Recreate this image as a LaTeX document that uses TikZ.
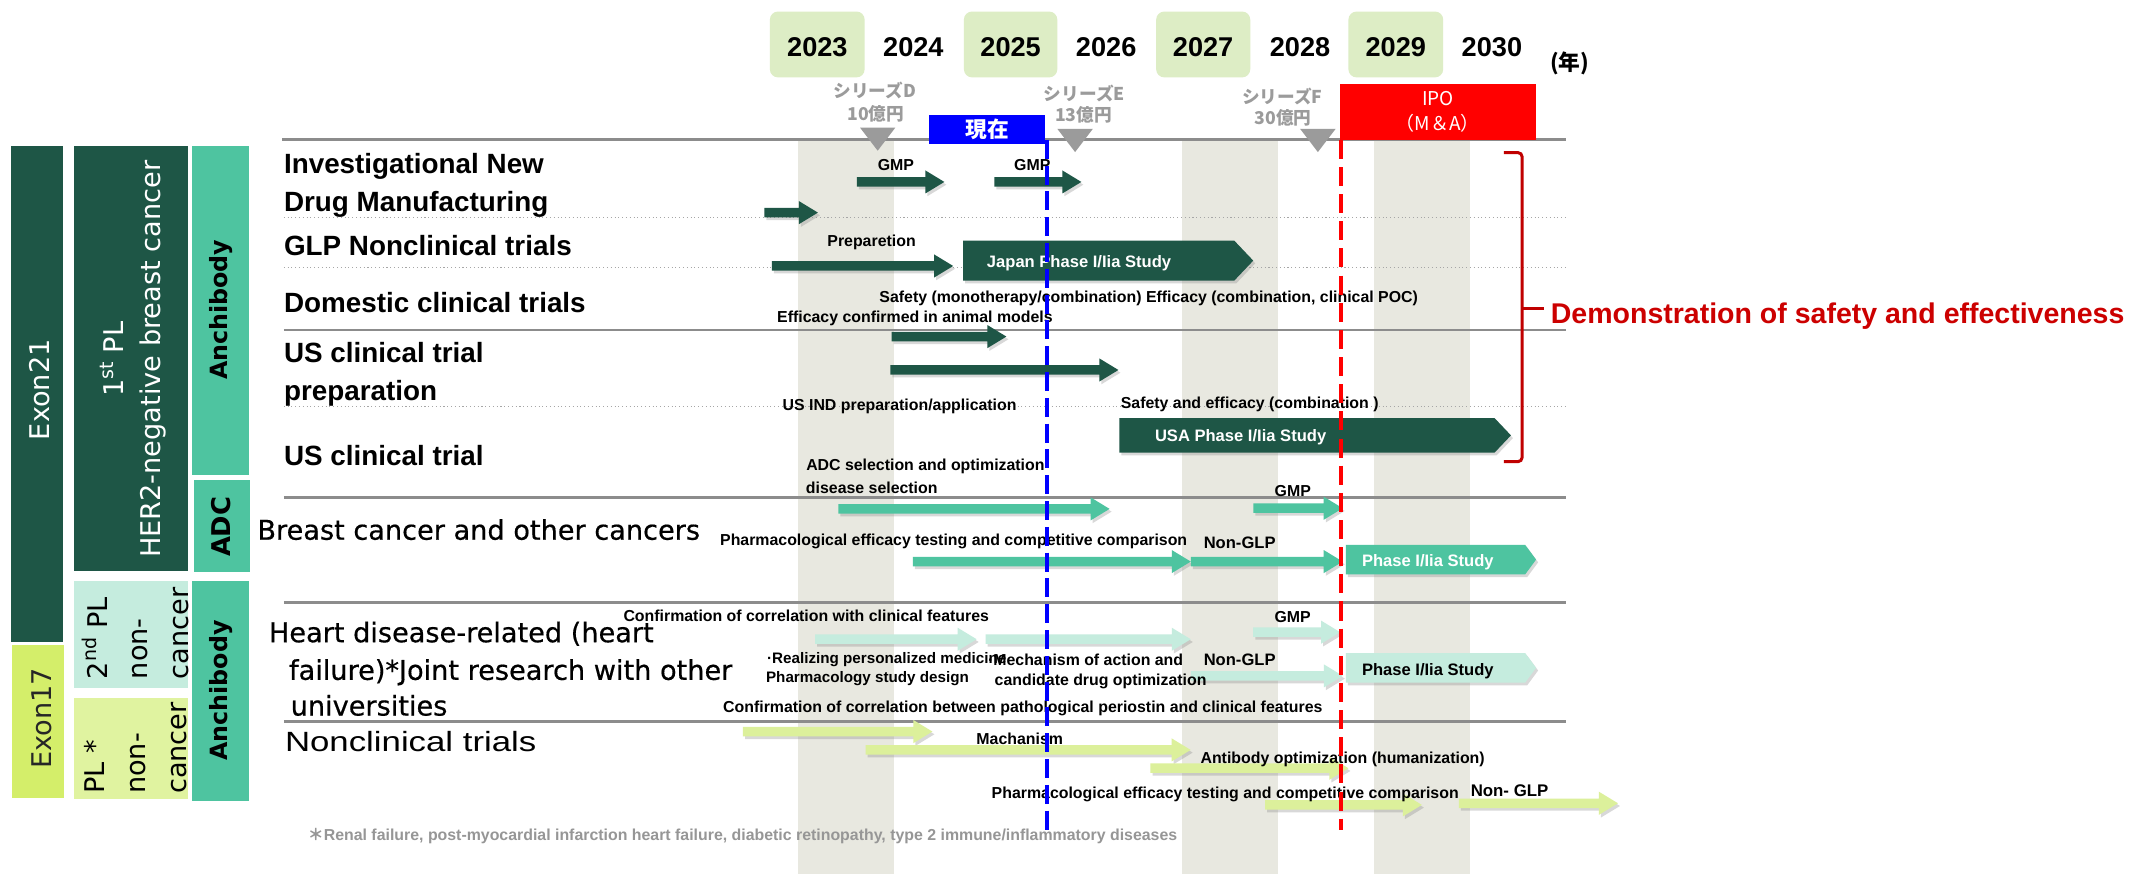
\documentclass[tikz,border=0pt]{standalone}
\usepackage{fontspec}
\setmainfont{Liberation Sans}
\newfontfamily\dvfont{DejaVu Sans}
\newfontfamily\dvmfont{DejaVu Sans}[FakeBold=0.5]
\newfontfamily\nlfont{Liberation Sans}[FakeStretch=1.25]
\newfontfamily\jpfont{Noto Sans CJK JP}
\usetikzlibrary{shadows}

\definecolor{dkgreen}{RGB}{30,86,70}
\definecolor{mdgreen}{RGB}{78,196,160}
\definecolor{mint}{RGB}{197,236,222}
\definecolor{ygreen}{RGB}{220,240,155}
\definecolor{exyellow}{RGB}{212,238,106}
\definecolor{plyellow}{RGB}{224,243,160}
\definecolor{yearbg}{RGB}{221,237,197}
\definecolor{bandbg}{RGB}{232,232,224}
\definecolor{rulegray}{RGB}{140,140,140}
\definecolor{markgray}{RGB}{155,155,155}
\definecolor{notegray}{RGB}{150,150,150}
\definecolor{braceRed}{RGB}{192,0,0}
\definecolor{txtRed}{RGB}{204,0,0}

% block arrow: start x, tip x, centre y, style
\newcommand\tlarrow[4]{\path[#4] (#1,#3-3.5) -- (#2-14,#3-3.5) -- (#2-14,#3-8.5) -- (#2,#3) -- (#2-14,#3+8.5) -- (#2-14,#3+3.5) -- (#1,#3+3.5) -- cycle;}
% phase box with pointed end: x1, x2, top y, bottom y, tip depth, style
\newcommand\tlphase[6]{\path[#6] (#1,#3) -- ({#2-#5},#3) -- (#2,{(#3+#4)/2}) -- ({#2-#5},#4) -- (#1,#4) -- cycle;}

\begin{document}
\begin{tikzpicture}[x=1pt,y=-1pt,
  shd/.style={drop shadow={shadow xshift=1.5pt,shadow yshift=-2pt,opacity=0.3}},
  dkA/.style={fill=dkgreen,shd},
  mdA/.style={fill=mdgreen,shd},
  mnA/.style={fill=mint,shd},
  ygA/.style={fill=ygreen,shd},
  yr/.style={font=\bfseries\fontsize{20}{22}\selectfont,inner sep=0},
  row/.style={font=\bfseries\fontsize{20.5}{23}\selectfont,anchor=base west,inner sep=0},
  bigrow/.style={font=\dvmfont\fontsize{20}{23}\selectfont,anchor=base west,inner sep=0},
  sm/.style={font=\bfseries\fontsize{11.7}{13}\selectfont,inner sep=0},
  smw/.style={sm,anchor=west},
  boxtxt/.style={font=\bfseries\fontsize{12.2}{14}\selectfont,inner sep=0},
  series/.style={font=\jpfont\bfseries\fontsize{13}{15}\selectfont,text=markgray,inner sep=0},
  sep/.style={rulegray,line width=2pt},
  dots/.style={gray!70,line width=0.8pt,dotted},
  side/.style={inner sep=0,rotate=90,font=\dvfont\fontsize{20}{27}\selectfont},
  sidebold/.style={inner sep=0,rotate=90,text=black,font=\dvfont\bfseries\fontsize{17.5}{20}\selectfont}]

\useasboundingbox (0,0) rectangle (1568,644);
\fill[white] (0,0) rectangle (1568,644);

% shaded year bands
\fill[bandbg] (587.6,103) rectangle (658.3,644);
\fill[bandbg] (870.4,103) rectangle (941.1,644);
\fill[bandbg] (1011.7,103) rectangle (1082.4,644);

% year header
\fill[yearbg,rounded corners=6] (567,8.5) rectangle (636.8,57);
\fill[yearbg,rounded corners=6] (709.9,8.5) rectangle (778.7,57);
\fill[yearbg,rounded corners=6] (851.5,8.5) rectangle (920.8,57);
\fill[yearbg,rounded corners=6] (993.1,8.5) rectangle (1062.9,57);
\node[yr] (y2023) at (602,34.4) {2023};
\node[yr] (y2024) at (672.7,34.4) {2024};
\node[yr] (y2025) at (744.3,34.4) {2025};
\node[yr] (y2026) at (814.7,34.4) {2026};
\node[yr] (y2027) at (886.1,34.4) {2027};
\node[yr] (y2028) at (957.5,34.4) {2028};
\node[yr] (y2029) at (1028,34.4) {2029};
\node[yr] (y2030) at (1098.8,34.4) {2030};
\node[font=\jpfont\bfseries\fontsize{16}{18}\selectfont,inner sep=0] (unit) at (1156,46.6) {(年)};

% funding rounds
\node[series] (serD1) at (644.3,66.3) {シリーズD};
\node[series] (serD2) at (645,83.5) {10億円};
\node[series] (serE1) at (798.6,68.7) {シリーズE};
\node[series] (serE2) at (798,84.7) {13億円};
\node[series] (serF1) at (944.5,71.2) {シリーズF};
\node[series] (serF2) at (945,87.1) {30億円};

% grid rules
\draw[sep] (208,103) -- (1153.5,103);
\draw[sep] (209,243) -- (1153,243);
\draw[sep] (209,366.5) -- (1153,366.5);
\draw[sep] (209,443.8) -- (1153,443.8);
\draw[sep] (209,531.4) -- (1153,531.4);
\draw[dots] (209,160) -- (1153,160);
\draw[dots] (209,196.8) -- (1153,196.8);
\draw[dots] (209,299.5) -- (1153,299.5);

% left category panel
\fill[dkgreen] (8.1,107.6) rectangle (46.2,472.6);
\fill[exyellow] (8.6,475.1) rectangle (47.1,587.5);
\fill[dkgreen] (54.5,107.6) rectangle (138.2,420.8);
\fill[mint] (54.5,427.9) rectangle (138.2,506.7);
\fill[plyellow] (54.5,514) rectangle (138.2,588.2);
\fill[mdgreen] (141.6,107.6) rectangle (183.4,350.2);
\fill[mdgreen] (142.6,353.7) rectangle (183.9,421.4);
\fill[mdgreen] (141.6,427.9) rectangle (183.4,590);
\node[side,text=white] (exon21) at (29,287) {Exon21};
\node[side,text=black!85] (exon17) at (30.7,529.2) {Exon17};
\node[side,text=white,align=center] (pl1) at (98.2,264.6) {1\textsuperscript{st} PL\\HER2-negative breast cancer};
\node[side,text=black,align=left,font=\dvfont\fontsize{20}{30}\selectfont] (pl2) at (100,466.5) {2\textsuperscript{nd} PL\\non-\\cancer};
\node[side,text=black,align=left,font=\dvfont\fontsize{20}{30}\selectfont] (pl3) at (100,551) {PL *\\non-\\cancer};
\node[sidebold] (anti1) at (163,228.2) {Anchibody};
\node[sidebold,font=\dvfont\bfseries\fontsize{19}{21}\selectfont] (adc) at (163,388) {ADC};
\node[sidebold] (anti2) at (163,508.5) {Anchibody};

% row labels
\node[row] (r1a) at (209,127.6) {Investigational New};
\node[row] (r1b) at (209,155.5) {Drug Manufacturing};
\node[row] (r2) at (209,188) {GLP Nonclinical trials};
\node[row] (r3) at (209,230) {Domestic clinical trials};
\node[row] (r4a) at (209,267.1) {US clinical trial};
\node[row] (r4b) at (209,294.6) {preparation};
\node[row] (r5) at (209,342.9) {US clinical trial};
\node[bigrow] (r6) at (189.4,397.5) {Breast cancer and other cancers};
\node[bigrow] (r7a) at (197.9,473) {Heart disease-related (heart};
\node[bigrow] (r7b) at (212.7,500.7) {failure)*Joint research with other};
\node[bigrow] (r7c) at (213.9,527) {universities};
\node[font=\nlfont\fontsize{20.5}{23}\selectfont,anchor=base west,inner sep=0] (r8) at (209.7,553.5) {Nonclinical trials};

% antibody programme (dark green)
\tlarrow{631}{695.5}{134}{dkA}
\tlarrow{732.3}{796.4}{134}{dkA}
\tlarrow{563}{602.4}{156.6}{dkA}
\tlarrow{568.5}{702}{195.9}{dkA}
\tlarrow{656.7}{741.2}{247.9}{dkA}
\tlarrow{655.7}{823.7}{272.5}{dkA}
\tlphase{709.3}{923}{177.2}{206.7}{14}{dkA}
\tlphase{824.4}{1112.8}{308}{333.3}{12}{dkA}

% ADC programme (medium green)
\tlarrow{617.4}{817.2}{374.8}{mdA}
\tlarrow{923.1}{988.9}{374.3}{mdA}
\tlarrow{672.3}{877}{413.6}{mdA}
\tlarrow{877}{988.9}{413.6}{mdA}
\tlphase{991.2}{1131.3}{401.3}{423}{8}{mdA}

% heart disease programme (mint)
\tlarrow{600.3}{719.3}{470.8}{mnA}
\tlarrow{725.9}{877}{470.8}{mnA}
\tlarrow{923}{987}{465.6}{mnA}
\tlarrow{877}{989}{497.8}{mnA}
\tlphase{991.2}{1131.3}{481}{502.7}{8}{mnA}

% nonclinical programme (yellow green)
\tlarrow{547.2}{686.7}{538.8}{ygA}
\tlarrow{637.5}{876.9}{552.3}{ygA}
\tlarrow{847.3}{993.1}{565.8}{ygA}
\tlarrow{931.8}{1047.2}{592.8}{ygA}
\tlarrow{1074.5}{1191.6}{591.6}{ygA}

% bar labels
\node[sm] (gmp1) at (659.8,121.5) {GMP};
\node[sm] (gmp2) at (760.3,121.5) {GMP};
\node[sm] (prep) at (641.9,178.7) {Preparetion};
\node[boxtxt,text=white] (jpn) at (794.7,194) {Japan Phase I/Iia Study};
\node[sm] (safety) at (846,219.7) {Safety (monotherapy/combination) Efficacy (combination, clinical POC)};
\node[smw] (animal) at (572.2,234.4) {Efficacy confirmed in animal models};
\node[smw] (usind) at (576.2,299.5) {US IND preparation/application};
\node[smw] (safeff) at (825.3,298.2) {Safety and efficacy (combination )};
\node[boxtxt,text=white] (usa) at (913.7,322) {USA Phase I/Iia Study};
\node[smw] (adcsel) at (593.6,343.4) {ADC selection and optimization};
\node[smw] (dissel) at (593.4,359.6) {disease selection};
\node[sm] (gmp3) at (952.1,362) {GMP};
\node[smw] (pharm1) at (530.2,398.9) {Pharmacological efficacy testing and competitive comparison};
\node[sm,font=\bfseries\fontsize{12.2}{14}\selectfont] (nglp1) at (913,400) {Non-GLP};
\node[boxtxt,text=white] (ph1) at (1051.6,414) {Phase I/Iia Study};
\node[smw] (corr1) at (459,453.4) {Confirmation of correlation with clinical features};
\node[sm] (gmp4) at (952,454.1) {GMP};
\node[smw,font=\bfseries\fontsize{11.2}{13}\selectfont] (pers) at (564.8,486) {·Realizing personalized medicine};
\node[smw,font=\bfseries\fontsize{11.2}{13}\selectfont] (pdes) at (564,500) {Pharmacology study design};
\node[smw] (moa) at (727.5,486) {·Mechanism of action and};
\node[smw] (cand) at (732.4,501.5) {candidate drug optimization};
\node[sm,font=\bfseries\fontsize{12.2}{14}\selectfont] (nglp2) at (913,486) {Non-GLP};
\node[boxtxt] (ph2) at (1051.6,494) {Phase I/Iia Study};
\node[smw] (corr2) at (532.4,521.6) {Confirmation of correlation between pathological periostin and clinical features};
\node[sm] (mech) at (751,544.2) {Machanism};
\node[smw] (abopt) at (884,559.6) {Antibody optimization (humanization)};
\node[smw] (pharm2) at (730.2,585.4) {Pharmacological efficacy testing and competitive comparison};
\node[smw,font=\bfseries\fontsize{12.4}{14}\selectfont] (nglp3) at (1083,582.2) {Non- GLP};
\node[smw,text=notegray,font=\bfseries\fontsize{11.7}{13}\selectfont] (note) at (226.6,616.1) {{\jpfont ＊}Renal failure, post-myocardial infarction heart failure, diabetic retinopathy, type 2 immune/inflammatory diseases};

% today and exit markers
\coordinate (nowtop) at (770.8,103);
\coordinate (nowbot) at (770.8,611);
\coordinate (ipotop) at (987.7,103);
\coordinate (ipobot) at (987.7,611);
\draw[blue,line width=3pt,dash pattern=on 14pt off 5pt] (nowtop) -- (nowbot);
\draw[red,line width=3.2pt,dash pattern=on 14pt off 6pt] (ipotop) -- (ipobot);
\node[fill=blue,text=white,font=\jpfont\bfseries\fontsize{16}{18}\selectfont,minimum width=85.4pt,minimum height=21pt,inner sep=0] (now) at (727.1,95.2) {現在};
\node[fill=red,text=white,font=\jpfont\fontsize{14}{18.4}\selectfont,minimum width=144.6pt,minimum height=41pt,inner sep=0,align=center] (ipo) at (1059,82.6) {IPO\\（M＆A）};

% funding triangles
\fill[markgray] (633.4,94) -- (659.4,94) -- (646.4,111) -- cycle;
\fill[markgray] (778.8,95) -- (804.8,95) -- (791.8,112) -- cycle;
\fill[markgray] (957.6,95) -- (983.6,95) -- (970.6,112) -- cycle;

% summary brace
\draw[braceRed,line width=2.2pt,rounded corners=3pt] (1107.6,112.4) -- (1121,112.4) -- (1121,340) -- (1107.6,340);
\draw[braceRed,line width=2.2pt] (1121,227.5) -- (1137.5,227.5);
\node[font=\bfseries\fontsize{21}{23}\selectfont,text=txtRed,anchor=base west,inner sep=0] (demo) at (1142,238.2) {Demonstration of safety and effectiveness};
\end{tikzpicture}
\end{document}
